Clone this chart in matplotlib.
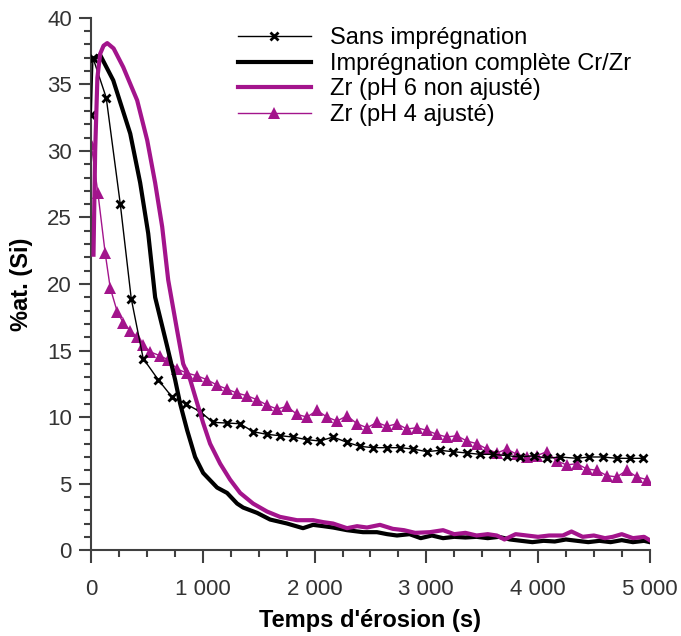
import matplotlib.pyplot as plt
from matplotlib.ticker import MultipleLocator, FuncFormatter

plt.rcParams['font.family'] = ['Liberation Sans', 'DejaVu Sans']

MAGENTA = '#a3148c'

# Sans imprégnation (thin black, x markers)
t_sans = [0, 15, 134, 260, 358, 465, 600, 724, 845, 975, 1091, 1216, 1333, 1449,
          1574, 1690, 1807, 1932, 2048, 2165, 2290, 2406, 2522, 2647, 2764, 2880,
          3005, 3122, 3238, 3363, 3480, 3600, 3720, 3840, 3960, 4080, 4195, 4347,
          4460, 4580, 4705, 4821, 4937]
v_sans = [32.7, 37.0, 34.0, 26.0, 18.9, 14.4, 12.8, 11.5, 11.0, 10.4, 9.6, 9.55, 9.5, 8.9,
          8.7, 8.6, 8.5, 8.3, 8.2, 8.5, 8.1, 7.8, 7.7, 7.7, 7.7, 7.6,
          7.4, 7.5, 7.4, 7.3, 7.2, 7.2, 7.1, 7.0, 7.1, 6.9, 7.0, 6.9,
          7.0, 7.0, 6.9, 6.9, 6.9]

# Imprégnation complète Cr/Zr (thick black)
t_crzr = [0, 80, 197, 349, 438, 510, 572, 680, 751, 796, 859, 930, 1002, 1127, 1216,
          1306, 1360, 1485, 1601, 1753, 1896, 1986, 2080, 2165, 2290, 2433, 2558, 2650,
          2737, 2850, 2950, 3050, 3150, 3250, 3350, 3450, 3550, 3650, 3750, 3850, 3950,
          4050, 4150, 4250, 4350, 4450, 4550, 4650, 4750, 4850, 4950, 5000]
v_crzr = [36.8, 37.2, 35.3, 31.3, 27.6, 23.8, 19.0, 15.3, 12.8, 11.0, 9.0, 7.0, 5.8, 4.7, 4.3,
          3.5, 3.2, 2.8, 2.3, 2.0, 1.65, 1.9, 1.8, 1.7, 1.5, 1.35, 1.35, 1.2,
          1.1, 1.2, 0.9, 1.1, 0.9, 1.0, 0.95, 1.0, 0.9, 1.0, 0.8, 0.7, 0.6,
          0.7, 0.65, 0.8, 0.7, 0.6, 0.7, 0.6, 0.75, 0.6, 0.7, 0.6]

# Zr (pH 6 non ajusté) (thick magenta)
t_ph6 = [20, 35, 55, 80, 110, 143, 200, 286, 411, 501, 572, 635, 689, 769, 823, 886, 948,
         1002, 1064, 1154, 1243, 1333, 1449, 1574, 1690, 1842, 1986, 2080, 2165, 2290,
         2380, 2469, 2585, 2700, 2800, 2900, 3032, 3150, 3250, 3350, 3450, 3550, 3631,
         3700, 3800, 3900, 4000, 4100, 4222, 4300, 4400, 4500, 4600, 4669, 4750, 4850,
         4950, 5000]
v_ph6 = [22.2, 30.0, 35.5, 37.3, 37.9, 38.1, 37.7, 36.3, 33.8, 30.8, 27.6, 24.3, 20.3, 16.5,
         14.0, 12.8, 11.05, 9.55, 8.0, 6.5, 5.3, 4.3, 3.5, 2.9, 2.5, 2.25, 2.25, 2.1, 2.0,
         1.65, 1.8, 1.7, 1.9, 1.6, 1.5, 1.3, 1.35, 1.5, 1.2, 1.3, 1.1, 1.2, 1.1,
         0.8, 1.2, 1.1, 1.0, 1.1, 1.1, 1.4, 1.0, 1.1, 0.9, 1.0, 1.2, 0.9, 1.0, 0.75]

# Zr (pH 4 ajusté) (thin magenta, triangles)
t_ph4 = [0, 60, 125, 170, 233, 286, 349, 411, 465, 528, 617, 689, 769, 859, 948, 1038,
         1127, 1216, 1306, 1396, 1485, 1574, 1664, 1753, 1842, 1932, 2021, 2111, 2201,
         2290, 2379, 2469, 2558, 2648, 2737, 2826, 2916, 3005, 3095, 3184, 3274, 3363,
         3453, 3542, 3632, 3721, 3811, 3900, 3990, 4079, 4169, 4258, 4348, 4437, 4527,
         4616, 4706, 4795, 4885, 4974]
v_ph4 = [30.5, 26.8, 22.3, 19.7, 17.9, 17.1, 16.5, 16.0, 15.4, 14.9, 14.6, 14.3, 13.6, 13.3,
         13.1, 12.8, 12.4, 12.1, 11.8, 11.6, 11.3, 10.9, 10.6, 10.8, 10.2, 10.0, 10.5, 10.0,
         9.7, 10.1, 9.5, 9.2, 9.6, 9.3, 9.5, 9.1, 9.2, 9.0, 8.7, 8.5, 8.6, 8.2, 8.0, 7.6,
         7.3, 7.6, 7.2, 7.0, 7.1, 7.4, 6.7, 6.4, 6.5, 6.1, 6.0, 5.6, 5.5, 6.0, 5.5, 5.3]

fig = plt.figure(figsize=(6.81, 6.36), dpi=100)
ax = fig.add_axes([0.134, 0.135, 0.820, 0.837])

ax.plot(t_sans, v_sans, color='black', lw=1, marker='x', ms=6, mew=2,
        label='Sans imprégnation', zorder=3)
ax.plot(t_crzr, v_crzr, color='black', lw=3, label='Imprégnation complète Cr/Zr', zorder=4)
ax.plot(t_ph6, v_ph6, color=MAGENTA, lw=3, label='Zr (pH 6 non ajusté)', zorder=5)
ax.plot(t_ph4, v_ph4, color=MAGENTA, lw=1, marker='^', ms=8, mew=0,
        label='Zr (pH 4 ajusté)', zorder=2)

ax.set_xlim(0, 5000)
ax.set_ylim(0, 40)
ax.xaxis.set_major_locator(MultipleLocator(1000))
ax.xaxis.set_minor_locator(MultipleLocator(250))
ax.yaxis.set_major_locator(MultipleLocator(5))
ax.yaxis.set_minor_locator(MultipleLocator(1))
ax.xaxis.set_major_formatter(FuncFormatter(lambda v, p: f'{int(v):,}'.replace(',', ' ')))

for side in ['top', 'right']:
    ax.spines[side].set_visible(False)
for side in ['left', 'bottom']:
    ax.spines[side].set_color('#404040')
    ax.spines[side].set_linewidth(1.5)

ax.tick_params(which='major', direction='out', length=9, width=1.5, color='#404040',
               labelsize=16, labelcolor='#333333', pad=12)
ax.tick_params(which='minor', direction='out', length=5, width=1.5, color='#404040')
ax.tick_params(axis='y', which='major', pad=5)

ax.set_xlabel("Temps d'érosion (s)", fontsize=17, fontweight='bold', labelpad=6)
ax.set_ylabel('%at. (Si)', fontsize=17, fontweight='bold', labelpad=10)

ax.legend(loc='upper left', bbox_to_anchor=(0.335, 0.972), bbox_transform=fig.transFigure,
          frameon=False, fontsize=17, handlelength=3.1, handletextpad=0.8,
          labelspacing=0.15, borderaxespad=0)

fig.savefig('out.png', dpi=100)
